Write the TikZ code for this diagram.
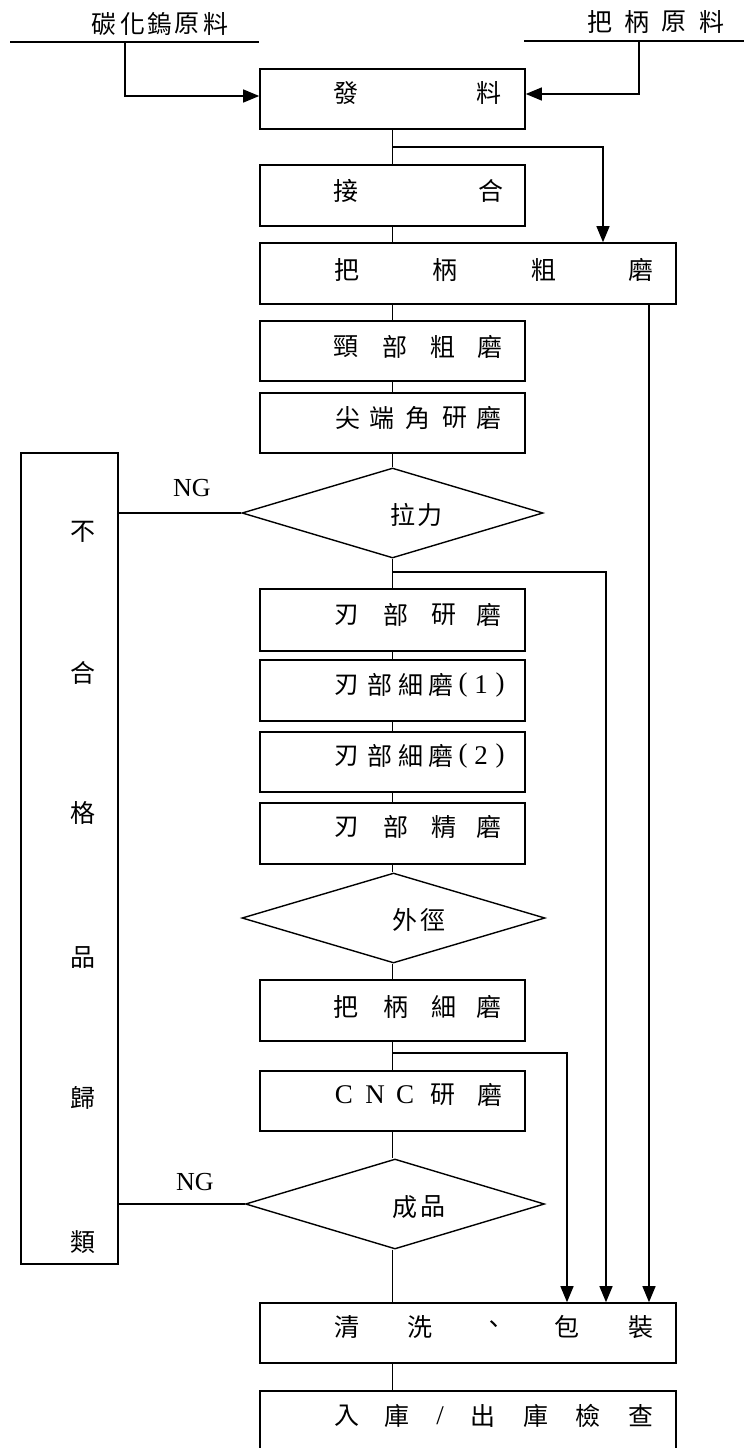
\documentclass[tikz,border=0pt]{standalone}
\usepackage{fontspec}
\setmainfont{Liberation Serif}
\newfontfamily\cjk{Noto Sans CJK TC}
\usetikzlibrary{arrows.meta,shapes.geometric}
\newcommand\lt[1]{{\rmfamily\fontsize{27}{27}\selectfont #1}}
\newcommand\chars[3]{\foreach \c/\xx [count=\i] in {#3} {\node[txt] (#1-\i) at (\xx,#2) {\c};}}
\tikzset{
  box/.style={draw, line width=1.6pt, inner sep=0pt},
  dia/.style={draw, shape=diamond, line width=1.4pt, inner sep=0pt},
  txt/.style={inner sep=0pt, font=\cjk\fontsize{25}{25}\selectfont},
  ng/.style={inner sep=0pt, font=\fontsize{26}{26}\selectfont},
  conn/.style={line width=1.3pt},
  arr/.style={conn, -{Triangle[length=16pt,width=13pt]}},
}
\begin{document}
\begin{tikzpicture}[x=1pt,y=-1pt]
\useasboundingbox (0,0) rectangle (744,1448);
% boxes
\node[box, minimum width=265, minimum height=60] (fa) at (392.5,99) {};
\node[box, minimum width=265, minimum height=61] (jh) at (392.5,195.5) {};
\node[box, minimum width=416, minimum height=61] (bbcm) at (468,273.5) {};
\node[box, minimum width=265, minimum height=60] (tbcm) at (392.5,351) {};
\node[box, minimum width=265, minimum height=60] (jdj) at (392.5,423) {};
\node[dia, minimum width=301, minimum height=90] (d1) at (392.5,513) {};
\node[box, minimum width=265, minimum height=62] (rbym) at (392.5,620) {};
\node[box, minimum width=265, minimum height=61] (xm1) at (392.5,690.5) {};
\node[box, minimum width=265, minimum height=60] (xm2) at (392.5,762) {};
\node[box, minimum width=265, minimum height=61] (jm) at (392.5,833.5) {};
\node[dia, minimum width=303, minimum height=90] (d2) at (393.5,918) {};
\node[box, minimum width=265, minimum height=61] (bbxm) at (392.5,1010.5) {};
\node[box, minimum width=265, minimum height=60] (cnc) at (392.5,1101) {};
\node[dia, minimum width=299, minimum height=90] (d3) at (395,1204) {};
\node[box, minimum width=416, minimum height=60] (qx) at (468,1333) {};
\node[box, minimum width=416, minimum height=60] (rk) at (468,1421) {};
\node[box, line width=1.3pt, minimum width=97, minimum height=811] (bad) at (69.5,858.5) {};
% source labels
\chars{s1}{24}{碳/104,化/133,鎢/160,原/187,料/216}
\chars{s2}{22}{把/600,柄/637,原/674,料/712}
\coordinate (l1a) at (10,42); \coordinate (l1b) at (259,42);
\coordinate (l2a) at (524,41); \coordinate (l2b) at (744,41);
\draw[conn] (l1a) -- (l1b);
\draw[conn] (l2a) -- (l2b);
\coordinate (s1d) at (125,42);
\coordinate (s2d) at (639,41);
\draw[arr] (s1d) |- ([yshift=3pt]fa.west);
\draw[arr] (s2d) |- ([yshift=5pt]fa.east);
% texts
\chars{tfa}{93}{發/346,料/489}
\chars{tjh}{191}{接/346,合/491}
\chars{tbb}{270}{把/347,柄/445,粗/544,磨/641}
\chars{ttb}{347}{頸/346,部/395,粗/443,磨/490}
\chars{tjd}{418}{尖/348,端/382,角/418,研/455,磨/489}
\chars{td1}{515}{拉/403,力/430}
\chars{trb}{615}{刃/347,部/396,研/444,磨/489}
\chars{tx1}{685}{刃/347,部/380,細/411,磨/441,\lt{(}/463,\lt{1}/481,\lt{)}/500}
\chars{tx2}{756}{刃/347,部/380,細/411,磨/441,\lt{(}/463,\lt{2}/481,\lt{)}/500}
\chars{tjm}{827}{刃/347,部/396,精/444,磨/489}
\chars{td2}{920}{外/405,徑/433}
\chars{tbx}{1007}{把/346,柄/396,細/444,磨/489}
\chars{tcn}{1095}{\lt{C}/344,\lt{N}/375,\lt{C}/405,研/443,磨/490}
\chars{td3}{1207}{成/405,品/433}
\chars{tqx}{1327}{清/347,洗/420,、/494,包/567,裝/641}
\chars{trk}{1416}{入/347,庫/397,\lt{/}/440,出/483,庫/536,檢/588,查/641}
\foreach \ch/\yy [count=\j] in {不/532,合/673,格/813,品/958,歸/1098,類/1242} {\node[txt] (bad-\j) at (83,\yy) {\ch};}
\node[ng] (ng1) at (192,488) {NG};
\node[ng] (ng2) at (195,1182) {NG};
% main flow
\draw[conn] (fa.south) -- (jh.north);
\draw[conn] (jh.south) -- (jh.south |- bbcm.north);
\draw[conn] (tbcm.north |- bbcm.south) -- (tbcm.north);
\draw[conn] (tbcm.south) -- (jdj.north);
\draw[conn] (jdj.south) -- (d1.north);
\draw[conn] (d1.south) -- (rbym.north);
\draw[conn] (rbym.south) -- (xm1.north);
\draw[conn] (xm1.south) -- (xm2.north);
\draw[conn] (xm2.south) -- (jm.north);
\draw[conn] (jm.south) -- (d2.north -| jm.south);
\draw[conn] (d2.south -| bbxm.north) -- (bbxm.north);
\draw[conn] (bbxm.south) -- (cnc.north);
\draw[conn] (cnc.south) -- (cnc.south |- d3.north);
\draw[conn] (cnc.south |- d3.south) -- (cnc.south |- qx.north);
\draw[conn] (qx.south -| cnc.south) -- (rk.north -| cnc.south);
% branches
\coordinate (b1) at (392.5,147); \coordinate (r0) at (603,0);
\coordinate (b2) at (392.5,572); \coordinate (r2) at (606,0);
\coordinate (b3) at (392.5,1053); \coordinate (r1) at (567,0);
\coordinate (r3) at (649,0);
\draw[arr] (b1) -| (r0 |- bbcm.north);
\draw[arr] (b2) -| (r2 |- qx.north);
\draw[arr] (b3) -| (r1 |- qx.north);
\draw[arr] (r3 |- bbcm.south) -- (r3 |- qx.north);
% NG lines
\draw[conn] (d1.west) -- (d1.west -| bad.east);
\draw[conn] (d3.west) -- (d3.west -| bad.east);
\end{tikzpicture}
\end{document}
